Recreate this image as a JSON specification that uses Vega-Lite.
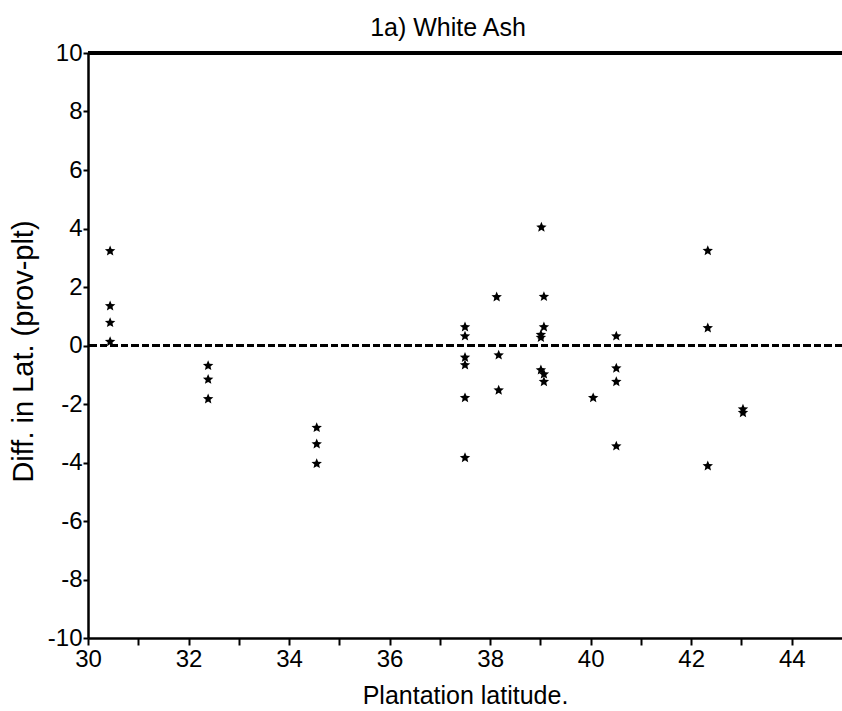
{
  "$schema": "https://vega.github.io/schema/vega-lite/v6.json",
  "autosize": {"type": "none"},
  "padding": {"left": 88, "top": 53, "right": 0, "bottom": 73},
  "width": 754,
  "height": 585,
  "background": "white",
  "title": {
    "text": "1a) White Ash",
    "font": "Liberation Sans",
    "fontSize": 25,
    "fontWeight": "normal",
    "color": "black",
    "anchor": "middle",
    "baseline": "bottom",
    "offset": -25,
    "dx": -17
  },
  "config": {
    "view": {"stroke": null},
    "axis": {
      "grid": false,
      "domainColor": "black",
      "domainWidth": 2.5,
      "tickColor": "black",
      "tickWidth": 2,
      "labelFont": "Liberation Sans",
      "labelFontSize": 24,
      "labelColor": "black",
      "labelFlush": false,
      "titleFont": "Liberation Sans",
      "titleFontWeight": "normal",
      "titleColor": "black"
    }
  },
  "data": {
    "values": [
      {"lat": 30.44, "diff": 3.23},
      {"lat": 30.44, "diff": 1.35},
      {"lat": 30.44, "diff": 0.78},
      {"lat": 30.44, "diff": 0.13},
      {"lat": 32.39, "diff": -0.69},
      {"lat": 32.39, "diff": -1.16},
      {"lat": 32.39, "diff": -1.83},
      {"lat": 34.55, "diff": -2.81},
      {"lat": 34.55, "diff": -3.37},
      {"lat": 34.55, "diff": -4.04},
      {"lat": 37.5, "diff": 0.63},
      {"lat": 37.5, "diff": 0.32},
      {"lat": 37.5, "diff": -0.41},
      {"lat": 37.5, "diff": -0.67},
      {"lat": 37.5, "diff": -1.79},
      {"lat": 37.5, "diff": -3.84},
      {"lat": 38.13, "diff": 1.66},
      {"lat": 38.17, "diff": -0.33},
      {"lat": 38.17, "diff": -1.53},
      {"lat": 39.02, "diff": 4.04},
      {"lat": 39.07, "diff": 1.67},
      {"lat": 39.07, "diff": 0.63},
      {"lat": 39.01, "diff": 0.37},
      {"lat": 39.01, "diff": 0.27},
      {"lat": 39.01, "diff": -0.84},
      {"lat": 39.07, "diff": -0.98},
      {"lat": 39.07, "diff": -1.24},
      {"lat": 40.05, "diff": -1.79},
      {"lat": 40.51, "diff": 0.32},
      {"lat": 40.51, "diff": -0.78},
      {"lat": 40.51, "diff": -1.24},
      {"lat": 40.51, "diff": -3.44},
      {"lat": 42.33, "diff": 3.24},
      {"lat": 42.33, "diff": 0.6},
      {"lat": 42.33, "diff": -4.12},
      {"lat": 43.03, "diff": -2.18},
      {"lat": 43.03, "diff": -2.3}
    ]
  },
  "layer": [
    {
      "mark": {"type": "rule", "color": "black", "strokeWidth": 3},
      "encoding": {"y": {"datum": 10, "type": "quantitative"}}
    },
    {
      "mark": {"type": "rule", "color": "black", "strokeWidth": 3, "strokeDash": [7, 3.5]},
      "encoding": {"y": {"datum": 0, "type": "quantitative"}}
    },
    {
      "mark": {
        "type": "point",
        "filled": true,
        "color": "black",
        "opacity": 1,
        "size": 120,
        "shape": "M0,-1L0.264,-0.364L0.951,-0.309L0.428,0.139L0.588,0.809L0,0.45L-0.588,0.809L-0.428,0.139L-0.951,-0.309L-0.264,-0.364Z"
      },
      "encoding": {
        "x": {
          "field": "lat",
          "type": "quantitative",
          "scale": {"domain": [30, 45], "nice": false, "zero": false},
          "axis": {
            "title": "Plantation latitude.",
            "titleFontSize": 25,
            "titleBaseline": "alphabetic",
            "titleY": 65,
            "values": [30, 31, 32, 33, 34, 35, 36, 37, 38, 39, 40, 41, 42, 43, 44],
            "labelExpr": "datum.value % 2 === 0 ? '' + datum.value : ''",
            "tickSize": 7,
            "labelPadding": 2
          }
        },
        "y": {
          "field": "diff",
          "type": "quantitative",
          "scale": {"domain": [-10, 10], "nice": false, "zero": false},
          "axis": {
            "title": "Diff. in Lat. (prov-plt)",
            "titleFontSize": 29,
            "titleBaseline": "middle",
            "titleX": -65,
            "titleY": 298,
            "values": [-10, -9, -8, -7, -6, -5, -4, -3, -2, -1, 0, 1, 2, 3, 4, 5, 6, 7, 8, 9, 10],
            "labelExpr": "datum.value % 2 === 0 ? '' + datum.value : ''",
            "tickSize": 5,
            "labelPadding": 1
          }
        }
      }
    }
  ]
}
